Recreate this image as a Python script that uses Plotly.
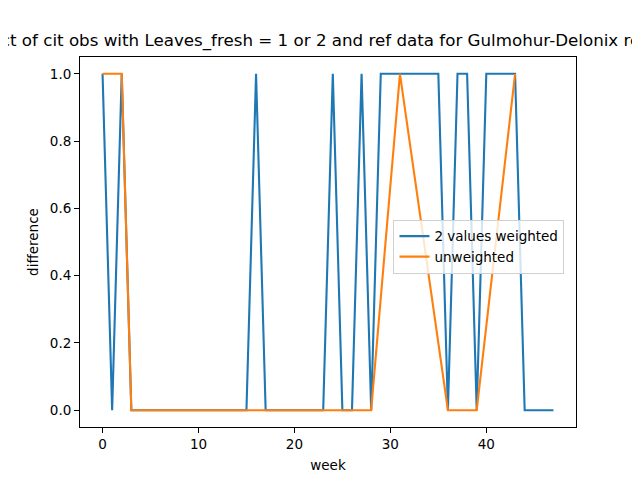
import plotly.graph_objects as go

# weekly difference, 2 values weighted
weighted_weeks = list(range(0, 48))
weighted_diff = [1, 0, 1, 0, 0, 0, 0, 0, 0, 0,
                 0, 0, 0, 0, 0, 0, 1, 0, 0, 0,
                 0, 0, 0, 0, 1, 0, 0, 1, 0, 1,
                 1, 1, 1, 1, 1, 1, 0, 1, 1, 0,
                 1, 1, 1, 1, 0, 0, 0, 0]

# unweighted difference (only weeks with ref data)
unweighted_weeks = [0, 1, 2, 3, 4, 5, 6, 7, 8, 9, 10, 11, 12, 13, 14, 15,
                    16, 17, 18, 19, 20, 21, 22, 23, 24, 25, 26, 27, 28,
                    31, 36, 37, 38, 39, 43]
unweighted_diff = [1, 1, 1, 0, 0, 0, 0, 0, 0, 0, 0, 0, 0, 0, 0, 0,
                   0, 0, 0, 0, 0, 0, 0, 0, 0, 0, 0, 0, 0,
                   1, 0, 0, 0, 0, 1]

title = "pct of cit obs with Leaves_fresh = 1 or 2 and ref data for Gulmohur-Delonix regia"

font = "DejaVu Sans"

fig = go.Figure()
fig.add_trace(go.Scatter(x=weighted_weeks, y=weighted_diff, mode="lines",
                         name="2 values weighted",
                         line=dict(color="#1f77b4", width=2.1)))
fig.add_trace(go.Scatter(x=unweighted_weeks, y=unweighted_diff, mode="lines",
                         name="unweighted",
                         line=dict(color="#ff7f0e", width=2.1)))

axis_style = dict(showgrid=False, zeroline=False, showline=True, mirror=True,
                  linecolor="black", linewidth=1, ticks="outside", ticklen=5,
                  tickcolor="black", tickfont=dict(family=font, size=13.5, color="black"))

# page body has an 8px margin, so shift the plot area up/left by 8px
fig.update_layout(
    width=640, height=480,
    paper_bgcolor="white", plot_bgcolor="white",
    margin=dict(l=72, r=72, t=49, b=61),
    font=dict(family=font, color="black"),
    title=dict(text=title, x=0.5, xref="paper", xanchor="center",
               y=1 - 32 / 480, yanchor="middle",
               font=dict(family=font, size=16.7, color="black")),
    legend=dict(x=0.632, y=0.56, xanchor="left", yanchor="top",
                bgcolor="rgba(255,255,255,0.8)", bordercolor="#d0d0d0",
                borderwidth=1, font=dict(family=font, size=13.5),
                tracegroupgap=0),
)
fig.update_xaxes(range=[-2.35, 49.35], tickvals=[0, 10, 20, 30, 40],
                 title=dict(text="week", font=dict(family=font, size=13.5), standoff=9),
                 **axis_style)
fig.update_yaxes(range=[-0.05, 1.05], tickvals=[0, 0.2, 0.4, 0.6, 0.8, 1.0],
                 tickformat=".1f",
                 title=dict(text="difference", font=dict(family=font, size=13.5), standoff=8),
                 **axis_style)

fig.write_html("out.html")
